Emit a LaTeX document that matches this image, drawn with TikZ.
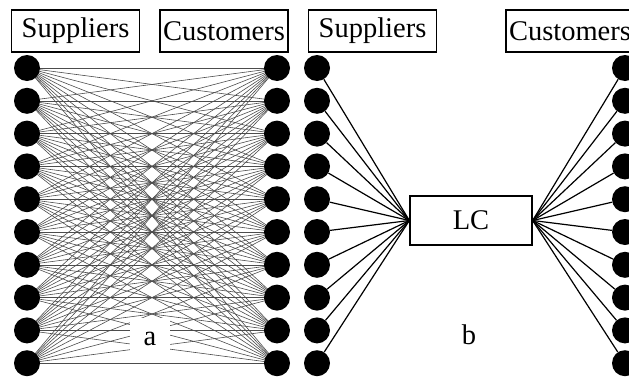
\documentclass[tikz,border=0pt]{standalone}
\usepackage{fontspec}
\setmainfont{Liberation Serif}
\usetikzlibrary{backgrounds}
\begin{document}
\begin{tikzpicture}[x=1pt,y=-1pt,
 dot/.style={circle,fill=black,inner sep=0pt,minimum size=26pt},
 labelbox/.style={draw,line width=1.3pt,minimum width=128pt,minimum height=42pt,inner sep=0pt,font=\fontsize{28.5}{30}\selectfont},
 mesh/.style={black!70,line width=0.6pt},
 spoke/.style={black,line width=1.2pt},
 tag/.style={fill=white,inner sep=0pt,minimum width=40pt,minimum height=42pt,font=\fontsize{28.5}{30}\selectfont}]
\useasboundingbox (0,0) rectangle (629,378);
\clip (0,0) rectangle (629,378);
% boxes
\node[labelbox] (supA) at (75.5,31) {Suppliers};
\node[labelbox] (cusA) at (224,31) {Customers};
\node[labelbox] (supB) at (372.5,31) {Suppliers};
\node[labelbox] (cusB) at (570,31) {Customers};
% dots
\foreach \i in {1,...,10}{
  \pgfmathsetmacro\yy{68+(\i-1)*32.8}
  \node[dot] (aS\i) at (27,\yy) {};
  \node[dot] (aC\i) at (277,\yy) {};
  \node[dot] (bS\i) at (317,\yy) {};
  \node[dot] (bC\i) at (625,\yy) {};
}
% panel a mesh
\begin{scope}[on background layer]
\foreach \i in {1,...,10}{
  \foreach \j in {1,...,10}{
    \draw[mesh] (aS\i.center) -- (aC\j.center);
  }
}
\end{scope}
\node[tag] (la) at (150,339) {a};
% panel b
\node[draw,line width=1.3pt,minimum width=122pt,minimum height=49pt,inner sep=0pt,font=\fontsize{28.5}{30}\selectfont] (lc) at (471,220.5) {LC};
\foreach \i in {1,...,10}{
  \draw[spoke] (bS\i) -- (lc.west);
  \draw[spoke] (bC\i) -- (lc.east);
}
\node[font=\fontsize{28.5}{30}\selectfont] (lb) at (469,335) {b};
\end{tikzpicture}
\end{document}
